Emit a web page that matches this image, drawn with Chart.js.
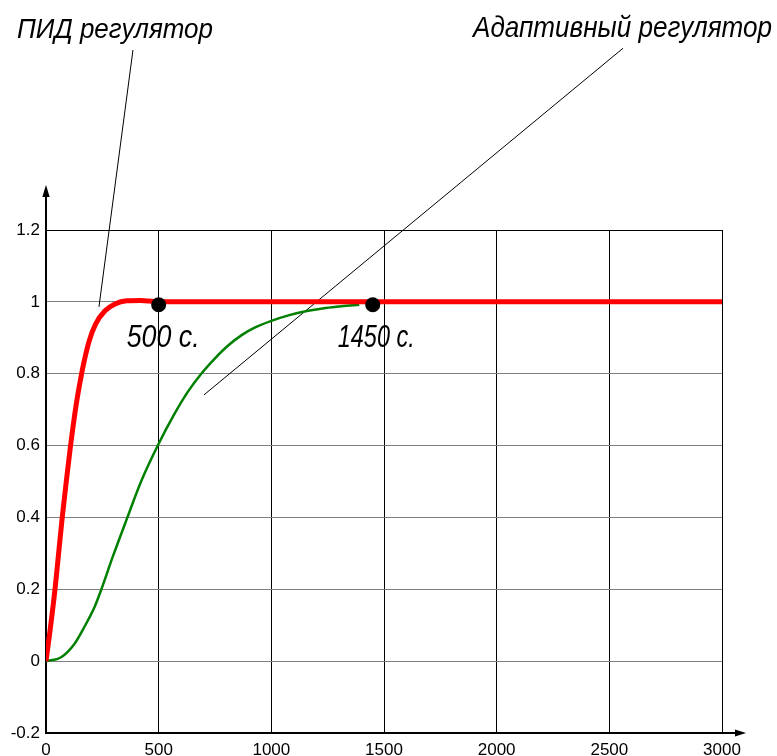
<!DOCTYPE html>
<html>
<head>
<meta charset="utf-8">
<script src="https://cdn.jsdelivr.net/npm/chart.js@4.4.1/dist/chart.umd.min.js"></script>
<style>
  html, body { margin: 0; padding: 0; background: #ffffff; }
  #wrap { width: 777px; height: 756px; }
</style>
</head>
<body>
<div id="wrap"><canvas id="chart" width="777" height="756"></canvas></div>
<script>
// Step responses: PID controller vs adaptive controller (time in seconds)
const pidTime  = [0, 20, 40, 56, 72, 90, 109, 133, 158, 173, 192, 220, 262, 306, 358, 420, 480, 540, 3000];
const pidValue = [0, 0.095, 0.2, 0.3, 0.4, 0.5, 0.6, 0.71, 0.8, 0.845, 0.892, 0.938, 0.975, 0.994, 1.003, 1.004, 1.001, 1.0, 1.0];

const adaptiveTime  = [0, 67, 126, 170, 215, 244, 296, 360, 422, 496, 570, 630, 689, 750, 807, 870, 926, 1000, 1080, 1163, 1240, 1311, 1390];
const adaptiveValue = [0, 0.011, 0.048, 0.095, 0.15, 0.197, 0.29, 0.398, 0.50, 0.60, 0.688, 0.75, 0.80, 0.843, 0.878, 0.908, 0.928, 0.947, 0.963, 0.975, 0.983, 0.988, 0.992];

// Settling-time markers
const settleTime  = [500, 1450];
const settleValue = [0.992, 0.992];
const settleLabels = ['500 с.', '1450 с.'];

// Axis ticks
const xTicks = [0, 500, 1000, 1500, 2000, 2500, 3000];
const yTicks = [-0.2, 0, 0.2, 0.4, 0.6, 0.8, 1, 1.2];

// Curve captions and their leader lines (data units: seconds, response)
const captions = ['ПИД регулятор', 'Адаптивный регулятор'];
const leaderFrom = [[386, 1.701], [2561, 1.706]];
const leaderTo   = [[235, 0.986], [701, 0.741]];

const FONT = "'Liberation Sans', Arial, sans-serif";

function toPoints(xs, ys) { return xs.map((x, i) => ({ x: x, y: ys[i] })); }

// draw italic text squeezed/stretched to a given width
function fittedText(ctx, text, x, baseline, width, size) {
  ctx.save();
  ctx.font = 'italic ' + size + 'px ' + FONT;
  ctx.fillStyle = '#000';
  ctx.textBaseline = 'alphabetic';
  ctx.textAlign = 'left';
  const w = ctx.measureText(text).width;
  ctx.translate(x, baseline);
  ctx.scale(width / w, 1);
  ctx.fillText(text, 0, 0);
  ctx.restore();
}

const decorations = {
  id: 'decorations',
  beforeDatasetsDraw(chart) {
    const ctx = chart.ctx, xs = chart.scales.x, ys = chart.scales.y;
    ctx.save();
    ctx.strokeStyle = '#000';
    ctx.lineWidth = 1;
    for (let i = 0; i < leaderFrom.length; i++) {
      ctx.beginPath();
      ctx.moveTo(xs.getPixelForValue(leaderFrom[i][0]), ys.getPixelForValue(leaderFrom[i][1]));
      ctx.lineTo(xs.getPixelForValue(leaderTo[i][0]), ys.getPixelForValue(leaderTo[i][1]));
      ctx.stroke();
    }
    ctx.restore();
  },
  afterDraw(chart) {
    const ctx = chart.ctx, a = chart.chartArea, xs = chart.scales.x, ys = chart.scales.y;
    ctx.save();
    ctx.strokeStyle = '#000';
    ctx.fillStyle = '#000';
    ctx.lineWidth = 2;
    // y axis arrow
    ctx.beginPath();
    ctx.moveTo(a.left, a.top);
    ctx.lineTo(a.left, a.top - 34);
    ctx.stroke();
    ctx.beginPath();
    ctx.moveTo(a.left, a.top - 45);
    ctx.lineTo(a.left - 3.7, a.top - 33);
    ctx.lineTo(a.left + 3.7, a.top - 33);
    ctx.closePath();
    ctx.fill();
    // x axis arrow
    ctx.beginPath();
    ctx.moveTo(a.right, a.bottom);
    ctx.lineTo(a.right + 14, a.bottom);
    ctx.stroke();
    ctx.beginPath();
    ctx.moveTo(a.right + 24, a.bottom);
    ctx.lineTo(a.right + 13, a.bottom - 3.6);
    ctx.lineTo(a.right + 13, a.bottom + 3.6);
    ctx.closePath();
    ctx.fill();
    ctx.restore();

    // captions
    fittedText(ctx, captions[0], 17, 38, 196, 28);
    fittedText(ctx, captions[1], 473, 37, 299, 30);

    // settling time labels under the markers
    const offs = [[-32, 42, 73], [-35, 42, 77]];
    for (let i = 0; i < settleTime.length; i++) {
      const px = xs.getPixelForValue(settleTime[i]);
      const py = ys.getPixelForValue(settleValue[i]);
      fittedText(ctx, settleLabels[i], px + offs[i][0], py + offs[i][1], offs[i][2], 32);
    }
  }
};

new Chart(document.getElementById('chart'), {
  type: 'line',
  data: {
    datasets: [
      {
        label: 'markers',
        type: 'scatter',
        data: toPoints(settleTime, settleValue),
        pointRadius: 7.5,
        pointHoverRadius: 7.5,
        pointBackgroundColor: '#000',
        pointBorderWidth: 0,
        showLine: false,
        order: 0
      },
      {
        label: captions[0],
        data: toPoints(pidTime, pidValue),
        borderColor: '#ff0000',
        borderWidth: 5,
        pointRadius: 0,
        cubicInterpolationMode: 'monotone',
        fill: false,
        order: 1
      },
      {
        label: captions[1],
        data: toPoints(adaptiveTime, adaptiveValue),
        borderColor: '#008000',
        borderWidth: 2.5,
        pointRadius: 0,
        cubicInterpolationMode: 'monotone',
        fill: false,
        order: 2
      }
    ]
  },
  options: {
    responsive: false,
    animation: false,
    events: [],
    layout: { padding: { top: 230, right: 55, bottom: 0, left: 0 } },
    plugins: { legend: { display: false }, tooltip: { enabled: false }, title: { display: false } },
    scales: {
      x: {
        type: 'linear',
        min: xTicks[0],
        max: xTicks[xTicks.length - 1],
        afterBuildTicks: s => { s.ticks = xTicks.map(v => ({ value: v })); },
        afterFit: s => { s.height = 23; },
        ticks: {
          callback: v => String(v),
          color: '#000',
          font: { family: FONT, size: 17 },
          padding: 7,
          maxRotation: 0,
          autoSkip: false
        },
        grid: { color: '#000', lineWidth: 1, drawTicks: false },
        border: { color: '#000', width: 2 }
      },
      y: {
        type: 'linear',
        min: yTicks[0],
        max: yTicks[yTicks.length - 1],
        afterBuildTicks: s => { s.ticks = yTicks.map(v => ({ value: v })); },
        afterFit: s => { s.width = 46; },
        ticks: {
          callback: v => String(Math.round(v * 10) / 10),
          color: '#000',
          font: { family: FONT, size: 17 },
          padding: 6
        },
        grid: {
          color: c => (c.tick && (Math.abs(c.tick.value - 1.2) < 1e-9 || Math.abs(c.tick.value + 0.2) < 1e-9)) ? '#000' : '#808080',
          lineWidth: 1,
          drawTicks: false
        },
        border: { color: '#000', width: 2 }
      }
    }
  },
  plugins: [decorations]
});
</script>
</body>
</html>
